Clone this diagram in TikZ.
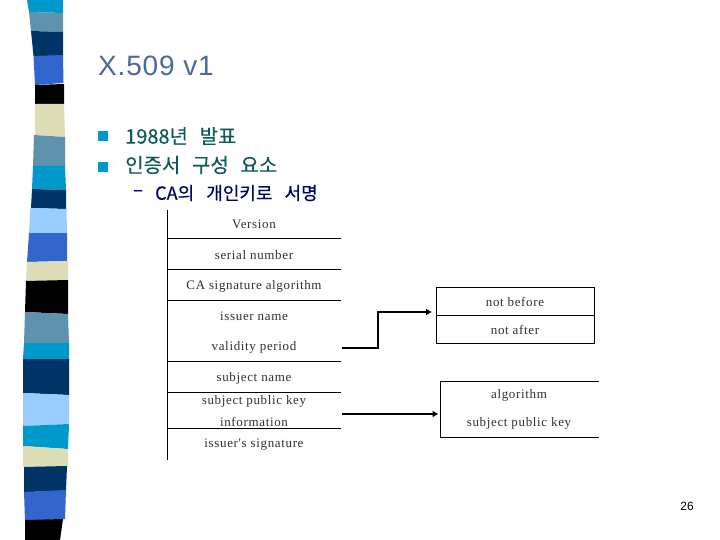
\documentclass[tikz,border=0pt]{standalone}
\usepackage{fontspec}
\setmainfont{Liberation Sans}
\newfontfamily\titlefont[LetterSpace=3]{Liberation Sans}
\newfontfamily\krfont[WordSpace=2.6,FakeBold=0.2]{Noto Sans CJK KR}
\newfontfamily\krsubfont[WordSpace=3,FakeBold=0.4]{Noto Sans CJK KR}
\newfontfamily\serfont[LetterSpace=5]{Liberation Serif}
\usetikzlibrary{arrows.meta}
\definecolor{cCyan}{HTML}{0099CC}
\definecolor{cSteel}{HTML}{5F93AD}
\definecolor{cNavy}{HTML}{003366}
\definecolor{cBlue}{HTML}{3366CC}
\definecolor{cCream}{HTML}{DDDDB8}
\definecolor{cLight}{HTML}{99CCFF}
\definecolor{cTitle}{HTML}{4A6A9E}
\definecolor{cBody}{HTML}{0B5A5A}
\definecolor{cSub}{HTML}{000066}
\definecolor{cField}{HTML}{303030}
\tikzset{
  x=1pt,y=-1pt,
  band/.style={fill=#1,draw=none},
  titletext/.style={anchor=west,inner sep=0pt,text=cTitle,font=\titlefont\fontsize{28}{28}\selectfont},
  bodytext/.style={anchor=west,inner sep=0pt,text=cBody,font=\krfont\fontsize{20}{22}\selectfont},
  subtext/.style={anchor=west,inner sep=0pt,text=cSub,font=\krsubfont\fontsize{18}{20}\selectfont},
  bullet/.style={fill=cCyan,draw=none,minimum size=10pt,inner sep=0pt},
  field/.style={inner sep=0pt,text=cField,font=\serfont\fontsize{13}{13}\selectfont},
  rule/.style={draw=black,line width=0.9pt},
  thick arrow/.style={draw=black,line width=2pt,-{Latex[length=6pt,width=7pt]}},
  boxline/.style={draw=black,line width=0.9pt},
}
\begin{document}
\begin{tikzpicture}
\useasboundingbox (0,0) rectangle (720,540);
\fill[white] (0,0) rectangle (720,540);
% stripe
\fill[band=cCyan] (27,0)--(63,0)--(63,13)--(29,12)--cycle;
\fill[band=cSteel] (29,12)--(63,13)--(63,32)--(31,31)--cycle;
\fill[band=cNavy] (31,31)--(63,32)--(63,56)--(33.5,56)--cycle;
\fill[band=cBlue] (33.5,56)--(63,55)--(63.5,83)--(35,85)--cycle;
\fill[band=black] (35,85)--(64,84)--(64,104)--(35,104)--cycle;
\fill[band=cCream] (35,104)--(64,104)--(65,137)--(35,135)--cycle;
\fill[band=cSteel] (34,135)--(65,137)--(65,166)--(33,166)--cycle;
\fill[band=cCyan] (33,166)--(65,166)--(66,190)--(32,189)--cycle;
\fill[band=cNavy] (32,189)--(66,190)--(66,209)--(31,208)--cycle;
\fill[band=cLight] (30.5,208)--(66.5,209)--(67,233)--(29,233)--cycle;
\fill[band=cBlue] (29,233)--(67,233)--(67,261)--(27,262)--cycle;
\fill[band=cCream] (27,262)--(68,261)--(68,281)--(26,281)--cycle;
\fill[band=black] (26,281)--(68,280)--(68,314)--(25,312)--cycle;
\fill[band=cSteel] (25,312)--(68,314)--(69,343)--(24,343)--cycle;
\fill[band=cCyan] (24,343)--(69,343)--(69,359)--(23,359)--cycle;
\fill[band=cNavy] (23,359)--(69,359)--(69,395)--(23,393)--cycle;
\fill[band=cLight] (23,393)--(69,395)--(69,424)--(23,426)--cycle;
\fill[band=cCyan] (23,426)--(69,424)--(68,449)--(23,446)--cycle;
\fill[band=cCream] (23,446)--(68,449)--(68,467)--(23,467)--cycle;
\fill[band=cNavy] (24,467)--(67,466)--(66,491)--(24,492)--cycle;
\fill[band=cBlue] (24,492)--(66,490)--(65,519)--(25,521)--cycle;
\fill[band=black] (25,520)--(63,519)--(60,540)--(25,540)--cycle;
% title and bullets
\node[titletext] (title) at (98,66) {X.509 v1};
\node[bullet] (b1) at (103,136) {};
\node[bullet] (b2) at (103,167) {};
\node[bodytext] (t1) at (125,136) {1988년 발표};
\node[bodytext] (t2) at (125,165) {인증서 구성 요소};
\node[subtext] (dash) at (133,193) {–};
\node[subtext] (t3) at (155,193) {CA의 개인키로 서명};
% field table
\draw[rule] (167,210) -- (167,460);
\coordinate (r1) at (341,238.5);
\coordinate (r2) at (341,269);
\coordinate (r3) at (341,300);
\coordinate (r4) at (341,361);
\coordinate (r5) at (341,392);
\coordinate (r6) at (341,428.5);
\draw[rule] (167,238.5) -- (r1);
\draw[rule] (167,269) -- (r2);
\draw[rule] (167,300) -- (r3);
\draw[rule] (167,361) -- (r4);
\draw[rule] (167,392) -- (r5);
\draw[rule] (167,428.5) -- (r6);
\node[field] (f1) at (254,224) {Version};
\node[field] (f2) at (254,255) {serial number};
\node[field] (f3) at (254,286) {CA signature algorithm};
\node[field] (f4) at (254,316) {issuer name};
\node[field] (f5) at (254,347.5) {validity period};
\node[field] (f6) at (254,378) {subject name};
\node[field] (f7) at (254,401) {subject public key};
\node[field] (f8) at (254,421.5) {information};
\node[field] (f9) at (254,445) {issuer's signature};
% validity box
\node[boxline,minimum width=158pt,minimum height=28pt,inner sep=0pt] (nb) at (515.5,301.5) {};
\node[boxline,minimum width=158pt,minimum height=28pt,inner sep=0pt] (na) at (515.5,329.5) {};
\node[field] (nbt) at (515,301.5) {not before};
\node[field] (nat) at (515,329.5) {not after};
% algorithm box
\coordinate (a1) at (440.5,381);
\coordinate (a2) at (440.5,437.5);
\coordinate (a3) at (599,381);
\coordinate (a4) at (599,437.5);
\draw[boxline] (a3) -- (a1) -- (a2) -- (a4);
\node[field] (alg) at (519,395.5) {algorithm};
\node[field] (spk) at (519,423.5) {subject public key};
% connectors
\coordinate (c1) at (342,348);
\coordinate (c2) at (342,414);
\draw[thick arrow,shorten >=4pt] (c1) -- (378,348) -- (378,312) -- (nb.west |- 0,312);
\draw[thick arrow,shorten >=2pt] (c2) -- (a1 |- c2);
% page number
\node[inner sep=0pt,text=black,font=\fontsize{12}{12}\selectfont] (pg) at (687,506) {26};
\end{tikzpicture}
\end{document}
